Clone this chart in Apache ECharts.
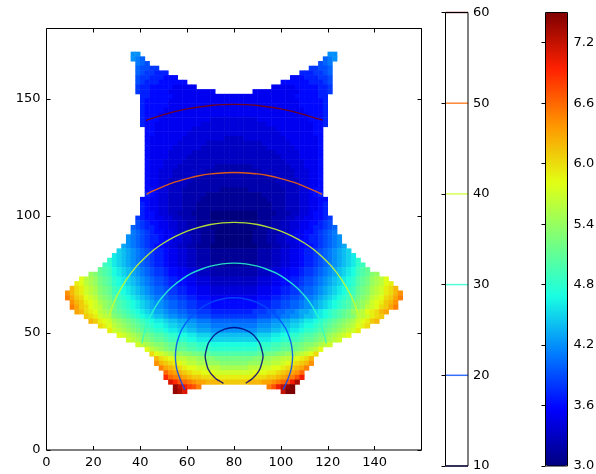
<!DOCTYPE html>
<html><head><meta charset="utf-8">
<style>html,body{margin:0;padding:0;background:#fff}#c{width:596px;height:474px}</style>
<script src="https://cdn.jsdelivr.net/npm/echarts@6/dist/echarts.min.js"></script>
</head><body><div id="c"></div>
<script>
// Colour field: [y centre, first x centre, values in tenths], one cell every 2 units of x
const heatRows = [
[169,37,[42,42]],[169,121,[42,42]],
[167,37,[42,41,40]],[167,119,[40,41,42]],
[165,39,[41,40,39]],[165,117,[39,40,41]],
[163,39,[40,39,39,38,38]],[163,113,[38,38,39,39,40]],
[161,39,[40,39,38,38,37,37,37]],[161,109,[37,37,37,38,38,39,40]],
[159,39,[39,38,38,37,37,37,36,36,36]],[159,105,[36,36,36,37,37,37,38,38,39]],
[157,39,[39,38,37,37,37,36,36,36,36,36,36]],[157,101,[36,36,36,36,36,36,37,37,37,38,39]],
[155,39,[38,37,37,36,36,36,36,36,35,35,35,35,35]],[155,97,[35,35,35,35,35,36,36,36,36,36,37,37,38]],
[153,39,[38,37,37,36,36,36,36,35,35,35,35,35,35,35,35,35,35]],[153,89,[35,35,35,35,35,35,35,35,35,35,36,36,36,36,37,37,38]],
[151,41,[37,37,36,36,36,36,36,35,35,35,35,35,35,35,35,35,35,35,35,35,35,35,35,35,35,35,35,35,35,35,35,35,35,36,36,36,36,36,37,37]],
[149,41,[37,36,36,36,36,36,35,35,35,35,35,35,35,35,35,35,35,35,35,35,35,35,35,35,35,35,35,35,35,35,35,35,35,35,36,36,36,36,36,37]],
[147,41,[37,36,36,36,36,36,35,35,35,35,35,35,35,35,35,35,35,35,35,35,35,35,35,35,35,35,35,35,35,35,35,35,35,35,36,36,36,36,36,37]],
[145,41,[37,36,36,36,36,35,35,35,35,35,35,35,35,35,35,35,35,35,35,35,35,35,35,35,35,35,35,35,35,35,35,35,35,35,35,36,36,36,36,37]],
[143,41,[37,36,36,36,35,35,35,35,35,35,35,35,35,35,35,35,35,35,35,35,35,35,35,35,35,35,35,35,35,35,35,35,35,35,35,35,36,36,36,37]],
[141,41,[37,36,36,36,35,35,35,35,35,35,35,35,35,35,35,34,34,34,34,34,34,34,34,34,34,35,35,35,35,35,35,35,35,35,35,35,36,36,36,37]],
[139,41,[37,36,36,35,35,35,35,35,35,35,35,35,35,34,34,34,34,34,34,34,34,34,34,34,34,34,34,35,35,35,35,35,35,35,35,35,35,36,36,37]],
[137,43,[36,36,35,35,35,35,35,35,35,35,34,34,34,34,34,34,34,34,34,34,34,34,34,34,34,34,34,34,35,35,35,35,35,35,35,35,36,36]],
[135,43,[36,36,35,35,35,35,35,35,35,34,34,34,34,34,34,34,34,34,34,34,34,34,34,34,34,34,34,34,34,35,35,35,35,35,35,35,36,36]],
[133,43,[36,35,35,35,35,35,35,35,34,34,34,34,34,34,34,34,34,33,33,33,33,34,34,34,34,34,34,34,34,34,35,35,35,35,35,35,35,36]],
[131,43,[36,35,35,35,35,35,35,34,34,34,34,34,34,33,33,33,33,33,33,33,33,33,33,33,33,34,34,34,34,34,34,35,35,35,35,35,35,36]],
[129,43,[36,35,35,35,35,35,34,34,34,34,34,34,33,33,33,33,33,33,33,33,33,33,33,33,33,33,34,34,34,34,34,34,35,35,35,35,35,36]],
[127,43,[36,35,35,35,35,34,34,34,34,34,33,33,33,33,33,33,33,33,33,33,33,33,33,33,33,33,33,33,34,34,34,34,34,35,35,35,35,36]],
[125,43,[36,35,35,35,35,34,34,34,34,33,33,33,33,33,33,33,33,33,33,33,33,33,33,33,33,33,33,33,33,34,34,34,34,35,35,35,35,36]],
[123,43,[36,35,35,35,34,34,34,34,33,33,33,33,33,33,33,33,33,33,33,33,33,33,33,33,33,33,33,33,33,33,34,34,34,34,35,35,35,36]],
[121,43,[36,35,35,35,34,34,34,33,33,33,33,33,33,33,33,32,32,32,32,32,32,32,32,33,33,33,33,33,33,33,33,34,34,34,35,35,35,36]],
[119,43,[36,35,35,34,34,34,33,33,33,33,33,33,33,32,32,32,32,32,32,32,32,32,32,32,32,33,33,33,33,33,33,33,34,34,34,35,35,36]],
[117,43,[36,35,35,34,34,34,33,33,33,33,33,32,32,32,32,32,32,32,32,32,32,32,32,32,32,32,32,33,33,33,33,33,34,34,34,35,35,36]],
[115,43,[36,35,35,34,34,33,33,33,33,33,32,32,32,32,32,32,32,32,32,32,32,32,32,32,32,32,32,32,33,33,33,33,33,34,34,35,35,36]],
[113,43,[36,35,35,34,34,33,33,33,33,32,32,32,32,32,32,32,32,32,32,32,32,32,32,32,32,32,32,32,32,33,33,33,33,34,34,35,35,36]],
[111,43,[36,36,35,34,34,33,33,33,32,32,32,32,32,32,32,32,31,31,31,31,31,31,32,32,32,32,32,32,32,32,33,33,33,34,34,35,36,36]],
[109,43,[37,36,35,34,34,33,33,33,32,32,32,32,32,31,31,31,31,31,31,31,31,31,31,31,31,32,32,32,32,32,33,33,33,34,34,35,36,37]],
[107,41,[36,36,35,35,34,34,33,33,33,32,32,32,32,31,31,31,31,31,31,31,31,31,31,31,31,31,31,32,32,32,32,33,33,33,34,34,35,35,36,36]],
[105,41,[37,36,35,35,34,34,33,33,33,32,32,32,31,31,31,31,31,31,31,31,31,31,31,31,31,31,31,31,32,32,32,33,33,33,34,34,35,35,36,37]],
[103,41,[37,36,35,35,34,34,33,33,33,32,32,32,31,31,31,31,31,31,31,31,31,31,31,31,31,31,31,31,32,32,32,33,33,33,34,34,35,35,36,37]],
[101,41,[37,36,36,35,34,34,33,33,32,32,32,31,31,31,31,30,30,30,30,30,30,30,30,30,30,31,31,31,31,32,32,32,33,33,34,34,35,36,36,37]],
[99,39,[38,37,36,36,35,35,34,34,33,33,32,32,32,31,31,31,30,30,30,30,30,30,30,30,30,30,31,31,31,32,32,32,33,33,34,34,35,35,36,36,37,38]],
[97,39,[39,38,37,36,36,35,35,34,34,33,33,32,32,31,31,31,30,30,30,30,30,30,30,30,30,30,31,31,31,32,32,33,33,34,34,35,35,36,36,37,38,39]],
[95,37,[40,39,38,37,37,36,35,35,34,34,33,33,32,32,31,31,31,30,30,30,30,30,30,30,30,30,30,31,31,31,32,32,33,33,34,34,35,35,36,37,37,38,39,40]],
[93,37,[41,40,39,38,37,36,36,35,35,34,33,33,32,32,32,31,31,31,30,30,30,30,30,30,30,30,31,31,31,32,32,32,33,33,34,35,35,36,36,37,38,39,40,41]],
[91,35,[42,41,40,39,38,37,37,36,35,35,34,34,33,33,32,32,31,31,31,30,30,30,30,30,30,30,30,31,31,31,32,32,33,33,34,34,35,35,36,37,37,38,39,40,41,42]],
[89,35,[42,41,40,39,38,37,37,36,36,35,34,34,33,33,32,32,31,31,31,30,30,30,30,30,30,30,30,31,31,31,32,32,33,33,34,34,35,36,36,37,37,38,39,40,41,42]],
[87,33,[43,42,41,40,39,38,37,36,36,35,34,34,33,33,32,32,31,31,31,30,30,30,30,30,30,30,30,30,30,31,31,31,32,32,33,33,34,34,35,36,36,37,38,39,40,41,42,43]],
[85,31,[45,44,43,42,41,40,39,38,37,37,36,35,35,34,34,33,33,32,32,32,31,31,31,31,31,31,31,31,31,31,32,32,32,33,33,34,34,35,35,36,37,37,38,39,40,41,42,43,44,45]],
[83,29,[46,45,44,43,42,41,40,39,38,37,37,36,35,35,34,34,33,33,32,32,32,31,31,31,31,31,31,31,31,31,31,32,32,32,33,33,34,34,35,35,36,37,37,38,39,40,41,42,43,44,45,46]],
[81,27,[48,46,45,44,43,42,41,40,39,38,37,37,36,35,35,34,34,33,33,32,32,32,31,31,31,31,31,31,31,31,31,31,32,32,32,33,33,34,34,35,35,36,37,37,38,39,40,41,42,43,44,45,46,48]],
[79,25,[49,48,46,45,44,43,42,41,40,39,38,37,37,36,35,35,34,34,33,33,32,32,32,31,31,31,31,31,31,31,31,31,31,32,32,32,33,33,34,34,35,35,36,37,37,38,39,40,41,42,43,44,45,46,48,49]],
[77,23,[51,50,49,47,46,45,44,43,42,41,40,39,38,38,37,36,36,35,35,34,34,33,33,33,32,32,32,32,32,32,32,32,32,32,33,33,33,34,34,35,35,36,36,37,38,38,39,40,41,42,43,44,45,46,47,49,50,51]],
[75,19,[54,53,51,50,49,47,46,45,44,43,42,41,40,39,38,38,37,36,36,35,35,34,34,33,33,33,32,32,32,32,32,32,32,32,32,32,33,33,33,34,34,35,35,36,36,37,38,38,39,40,41,42,43,44,45,46,47,49,50,51,53,54]],
[73,15,[58,56,55,54,52,51,50,48,47,46,45,44,43,42,41,40,39,39,38,37,37,36,36,35,35,34,34,34,33,33,33,33,33,33,33,33,33,33,34,34,34,35,35,36,36,37,37,38,39,39,40,41,42,43,44,45,46,47,48,50,51,52,54,55,56,58]],
[71,13,[59,58,56,55,54,52,51,50,48,47,46,45,44,43,42,41,40,39,39,38,37,37,36,36,35,35,34,34,34,33,33,33,33,33,33,33,33,33,33,34,34,34,35,35,36,36,37,37,38,39,39,40,41,42,43,44,45,46,47,48,50,51,52,54,55,56,58,59]],
[69,11,[62,60,59,57,56,55,53,52,51,49,48,47,46,45,44,43,42,41,40,40,39,38,38,37,37,36,36,35,35,35,34,34,34,34,34,34,34,34,34,34,35,35,35,36,36,37,37,38,38,39,40,40,41,42,43,44,45,46,47,48,49,51,52,53,55,56,57,59,60,62]],
[67,9,[64,62,60,59,57,56,55,53,52,51,49,48,47,46,45,44,43,42,41,40,40,39,38,38,37,37,36,36,35,35,35,34,34,34,34,34,34,34,34,34,34,35,35,35,36,36,37,37,38,38,39,40,40,41,42,43,44,45,46,47,48,49,51,52,53,55,56,57,59,60,62,64]],
[65,9,[65,63,61,60,58,57,56,54,53,52,50,49,48,47,46,45,44,43,42,41,41,40,39,39,38,38,37,37,36,36,36,35,35,35,35,35,35,35,35,35,35,36,36,36,37,37,38,38,39,39,40,41,41,42,43,44,45,46,47,48,49,50,52,53,54,56,57,58,60,61,63,65]],
[63,11,[64,62,61,59,58,57,55,54,53,51,50,49,48,47,46,45,44,43,42,42,41,40,40,39,39,38,38,37,37,37,36,36,36,36,36,36,36,36,36,36,37,37,37,38,38,39,39,40,40,41,42,42,43,44,45,46,47,48,49,50,51,53,54,55,57,58,59,61,62,64]],
[61,11,[65,63,61,60,58,57,56,54,53,52,50,49,48,47,46,45,44,43,42,42,41,40,40,39,39,38,38,37,37,37,36,36,36,36,36,36,36,36,36,36,37,37,37,38,38,39,39,40,40,41,42,42,43,44,45,46,47,48,49,50,52,53,54,56,57,58,60,61,63,65]],
[59,13,[63,62,60,59,58,56,55,54,52,51,50,49,48,47,46,45,44,43,43,42,41,41,40,40,39,39,38,38,38,37,37,37,37,37,37,37,37,37,38,38,38,39,39,40,40,41,41,42,43,43,44,45,46,47,48,49,50,51,52,54,55,56,58,59,60,62,63]],
[57,17,[61,60,59,57,56,55,53,52,51,50,49,48,47,46,45,44,44,43,42,42,41,41,40,40,39,39,39,38,38,38,38,38,38,38,38,38,38,39,39,39,40,40,41,41,42,42,43,44,44,45,46,47,48,49,50,51,52,53,55,56,57,59,60,61]],
[55,19,[62,61,59,58,57,55,54,53,52,51,50,49,48,47,46,46,45,44,44,43,43,42,42,41,41,41,40,40,40,40,40,40,40,40,40,40,41,41,41,42,42,43,43,44,44,45,46,46,47,48,49,50,51,52,53,54,55,57,58,59,61,62]],
[53,23,[60,59,58,56,55,54,53,52,51,50,49,48,47,47,46,45,45,44,44,43,43,42,42,42,41,41,41,41,41,41,41,41,41,41,42,42,42,43,43,44,44,45,45,46,47,47,48,49,50,51,52,53,54,55,56,58,59,60]],
[51,27,[59,57,56,55,54,53,52,51,50,49,48,48,47,46,46,45,45,44,44,43,43,43,42,42,42,42,42,42,42,42,42,42,43,43,43,44,44,45,45,46,46,47,48,48,49,50,51,52,53,54,55,56,57,59]],
[49,31,[58,57,56,55,54,53,52,51,50,50,49,48,48,47,47,46,46,45,45,45,44,44,44,44,44,44,44,44,44,44,45,45,45,46,46,47,47,48,48,49,50,50,51,52,53,54,55,56,57,58]],
[47,35,[57,56,55,54,53,52,51,51,50,49,49,48,48,47,47,46,46,46,45,45,45,45,45,45,45,45,45,45,46,46,46,47,47,48,48,49,49,50,51,51,52,53,54,55,56,57]],
[45,39,[57,56,55,54,53,53,52,51,51,50,50,49,49,48,48,48,47,47,47,47,47,47,47,47,47,47,48,48,48,49,49,50,50,51,51,52,53,53,54,55,56,57]],
[43,43,[58,56,55,54,53,52,52,51,51,50,50,49,49,49,48,48,48,48,48,48,48,48,48,48,49,49,49,50,50,51,51,52,52,53,54,55,56,58]],
[41,45,[60,58,57,56,55,54,54,53,53,52,52,51,51,50,50,50,50,50,50,50,50,50,50,51,51,52,52,53,53,54,54,55,56,57,58,60]],
[39,47,[62,60,59,58,57,56,56,55,55,54,54,53,53,52,52,52,52,52,52,52,52,53,53,54,54,55,55,56,56,57,58,59,60,62]],
[37,47,[64,62,61,60,59,58,57,56,56,55,55,54,54,54,53,53,53,53,53,53,54,54,54,55,55,56,56,57,58,59,60,61,62,64]],
[35,49,[65,63,62,61,60,59,58,58,57,57,56,56,56,55,55,55,55,55,55,56,56,56,57,57,58,58,59,60,61,62,63,65]],
[33,51,[66,64,63,62,61,60,59,59,58,58,58,57,57,57,57,57,57,57,57,58,58,58,59,59,60,61,62,63,64,66]],
[31,51,[69,66,65,64,63,62,61,61,60,60,60,59,59,59,59,59,59,59,59,60,60,60,61,61,62,63,64,65,67,70]],
[29,53,[71,69,67,66,65,64,63,63,62,62,62,61,61,61,61,61,61,62,62,62,63,63,64,65,66,67,70,73]],
[27,55,[74,72,70,68,67,65]],[27,95,[65,67,70,72,74,75]],
[25,55,[74,73,71]],[25,101,[72,75,75]]
];
// Contours, [x, y]
const contour10 = [[75.5,28.5],[72,30.6],[69,34.5],[67.7,40],[69,45.5],[72,49.4],[76,51.6],[80,52.3],[84,51.6],[88,49.4],[91,45.5],[92.4,40],[91,34.5],[88,30.6],[85,28.5]];
const contour20 = [[59,25.8],[57,30.2],[55.5,35],[55,40],[55.5,45],[56.5,48.5],[58,52],[61,56.2],[65,60],[70,62.9],[75,64.5],[80,65],[85,64.5],[90,62.9],[95,60],[99,56.2],[102,52],[103.5,48.5],[104.5,45],[105,40],[104.5,35],[103,30.2],[101,25.8]];
const contour30 = [[40.7,45.5],[42,51.1],[44,56.5],[47,62],[50,66],[54,70],[58,73.1],[62,75.5],[66,77.2],[70,78.5],[75,79.5],[80,79.8],[85,79.5],[90,78.5],[94,77.2],[98,75.5],[102,73.1],[106,70],[110,66],[113,62],[116,56.5],[118,51.1],[119.4,45.5]];
const contour40 = [[25.5,52],[27,58.2],[30,65.7],[34,72.7],[38,78],[42,82.1],[46,85.6],[50,88.4],[55,91.2],[60,93.5],[65,95.1],[70,96.3],[75,97],[80,97.2],[85,97],[90,96.3],[95,95.1],[100,93.5],[105,91.2],[110,88.4],[114,85.6],[118,82.1],[122,78],[126,72.7],[130,65.7],[133,58.2],[134.5,52]];
const contour50 = [[42.7,109.2],[45,110.4],[50,112.6],[55,114.5],[60,115.9],[65,117.1],[70,117.9],[75,118.3],[80,118.5],[85,118.3],[90,117.9],[95,117.1],[100,115.9],[105,114.5],[110,112.6],[115,110.4],[117.6,109.2]];
const contour60 = [[42.5,140.7],[45,141.6],[50,143.2],[55,144.6],[60,145.7],[65,146.5],[70,147.1],[75,147.5],[80,147.6],[85,147.5],[90,147.1],[95,146.5],[100,145.7],[105,144.6],[110,143.2],[115,141.6],[117.8,140.9]];
const contours = [contour10,contour20,contour30,contour40,contour50,contour60];
const levels = [10,20,30,40,50,60];
const levelColors = ['#00007f','#004cff','#29ffce','#ceff29','#ff6800','#7f0000'];
const jet = ['#00007f','#0000ff','#007fff','#19ffe2','#7bff7b','#e2ff14','#ff9700','#ff2100','#7f0000'];

const font = {color:'#000',fontSize:13,fontFamily:'DejaVu Sans'};
const xCats = Array.from({length:80},(_,i)=>String(i*2+1));
const yCats = Array.from({length:90},(_,i)=>String(i*2+1));
const heat = [];
heatRows.forEach(([y,x0,vals])=>vals.forEach((v,i)=>heat.push([(x0+2*i-1)/2,(y-1)/2,v/10])));

const tick = {show:true,inside:true,length:4,lineStyle:{color:'#000',width:1}};
const hideLine = {show:false};
const frame = b=>({left:b[0],top:b[1],width:b[2],height:b[3],show:true,z:10,backgroundColor:'transparent',borderColor:'#000',borderWidth:1,outerBoundsMode:'none',containLabel:false});
const chart = echarts.init(document.getElementById('c'),null,{renderer:'canvas'});
const contourSeries = contours.map((pts,i)=>({type:'line',xAxisIndex:1,yAxisIndex:1,data:pts,smooth:0.2,showSymbol:false,silent:true,z:5,
  lineStyle:{color:levelColors[i],width:1.4,opacity:0.85}}));
const barLines = levels.map((lv,i)=>({type:'line',xAxisIndex:4,yAxisIndex:4,data:[[0,lv],[1,lv]],showSymbol:false,silent:true,clip:false,z:5,
  lineStyle:{color:levelColors[i],width:1.5,opacity:0.8}}));
chart.setOption({
  animation:false,backgroundColor:'#fff',
  grid:[frame([46.5,28.5,375,421.5]),frame([445.5,12.5,22.5,453.5]),frame([545.5,12.5,22,453.5])],
  xAxis:[
    {type:'category',gridIndex:0,data:xCats,show:false},
    {type:'value',gridIndex:0,min:0,max:160,interval:20,position:'bottom',axisLine:hideLine,axisTick:tick,splitLine:hideLine,
      axisLabel:{...font,margin:6,showMaxLabel:false}},
    {type:'value',gridIndex:0,min:0,max:160,interval:20,position:'top',axisLine:hideLine,axisTick:tick,splitLine:hideLine,axisLabel:{show:false}},
    {type:'value',gridIndex:2,min:0,max:1,show:false},
    {type:'value',gridIndex:1,min:0,max:1,show:false}
  ],
  yAxis:[
    {type:'category',gridIndex:0,data:yCats,show:false},
    {type:'value',gridIndex:0,min:0,max:180,interval:50,position:'left',axisLine:hideLine,axisTick:tick,splitLine:hideLine,
      axisLabel:{...font,margin:6,showMaxLabel:false}},
    {type:'value',gridIndex:0,min:0,max:180,interval:50,position:'right',axisLine:hideLine,axisTick:tick,splitLine:hideLine,axisLabel:{show:false}},
    {type:'value',gridIndex:2,min:3,max:7.5,interval:0.6,position:'right',z:6,axisLine:hideLine,axisTick:tick,splitLine:hideLine,
      axisLabel:{...font,margin:6,showMaxLabel:false,formatter:v=>v.toFixed(1)}},
    {type:'value',gridIndex:1,min:10,max:60,interval:10,position:'right',axisLine:hideLine,axisTick:tick,splitLine:hideLine,axisLabel:{...font,margin:5}}
  ],
  visualMap:{type:'continuous',seriesIndex:0,dimension:2,min:3,max:7.5,inRange:{color:jet},calculable:false,
    left:545.5,top:12.5,itemWidth:22,itemHeight:453.5,padding:0,text:null,showLabel:false,realtime:false,hoverLink:false,orient:'vertical'},
  series:[
    {type:'heatmap',xAxisIndex:0,yAxisIndex:0,data:heat,silent:true,z:2,progressive:0},
    ...contourSeries,...barLines,
    {type:'line',xAxisIndex:3,yAxisIndex:3,data:[],silent:true}
  ]
});
</script></body></html>
